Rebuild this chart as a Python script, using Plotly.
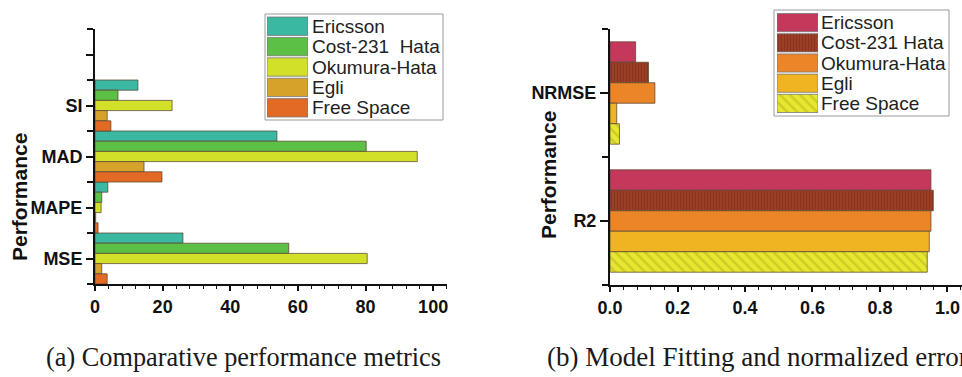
import plotly.graph_objects as go

W, H = 962, 377

# ---------------- data ----------------
metrics_a = ["MSE", "MAPE", "MAD", "SI", ""]
models_a = ["Ericsson", "Cost-231\u00a0 Hata", "Okumura-Hata", "Egli", "Free Space"]
ericsson_a = [26.0, 3.8, 53.8, 12.7]
cost231_a = [57.3, 2.0, 80.2, 6.8]
okumura_a = [80.5, 1.8, 95.3, 22.8]
egli_a = [2.0, 0.2, 14.5, 3.6]
freespace_a = [3.6, 0.9, 19.8, 4.7]
colors_a = ["#3bb8a2", "#5cbf46", "#d3e02a", "#d6a22a", "#e26a24"]

metrics_b = ["R2", "NRMSE"]
models_b = ["Ericsson", "Cost-231 Hata", "Okumura-Hata", "Egli", "Free Space"]
ericsson_b = [0.951, 0.076]
cost231_b = [0.958, 0.114]
okumura_b = [0.951, 0.133]
egli_b = [0.946, 0.020]
freespace_b = [0.940, 0.028]
colors_b = ["#c4395b", "#983b24", "#ec8428", "#f0b422", "#e3e62c"]
patterns_b = [None, dict(shape="|", size=3, solidity=0.3, fgcolor="#6f2818", bgcolor="#9c3e26"),
              None, None,
              dict(shape="\\", size=7, solidity=0.35, fgcolor="#b8ae1a", bgcolor="#e6e830")]

xticks_a = [0, 20, 40, 60, 80, 100]
xticks_b = [0.0, 0.2, 0.4, 0.6, 0.8, 1.0]

captions = ["(a) Comparative performance metrics", "(b) Model Fitting and normalized error"]


def px_x(p):
    return p / W


def px_y(p):
    return (H - p) / H


fig = go.Figure()

series_a = [ericsson_a, cost231_a, okumura_a, egli_a, freespace_a]
series_b = [ericsson_b, cost231_b, okumura_b, egli_b, freespace_b]
outline = "rgba(90,70,50,0.75)"

# left chart: 5 bars fill each category (no gap)
wa = 1.0 / len(series_a)
for i, (name, vals, col) in enumerate(zip(models_a, series_a, colors_a)):
    fig.add_trace(go.Bar(
        x=vals, y=list(range(len(vals))), orientation="h", name=name,
        width=wa, offset=0.5 - wa * (i + 1),
        marker=dict(color=col, line=dict(color=outline, width=1)),
        xaxis="x", yaxis="y", showlegend=False, hoverinfo="skip"))

# right chart: 5 bars fill 80% of each category
wb = 0.8 / len(series_b)
for i, (name, vals, col, pat) in enumerate(zip(models_b, series_b, colors_b, patterns_b)):
    m = dict(color=col, line=dict(color=outline, width=1))
    if pat:
        m["pattern"] = pat
    fig.add_trace(go.Bar(
        x=vals, y=list(range(len(vals))), orientation="h", name=name,
        width=wb, offset=0.4 - wb * (i + 1),
        marker=m, xaxis="x2", yaxis="y2", showlegend=False, hoverinfo="skip"))

# legend swatches (drawn as bars on small helper axes)
n = len(models_a)
for i, (name, col) in enumerate(zip(models_a, colors_a)):
    fig.add_trace(go.Bar(
        x=[1], y=[n - 1 - i], base=0, orientation="h", width=0.9, offset=-0.45,
        marker=dict(color=col, line=dict(color="rgba(120,120,120,0.8)", width=1)),
        xaxis="x3", yaxis="y3", showlegend=False, hoverinfo="skip"))
for i, (name, col, pat) in enumerate(zip(models_b, colors_b, patterns_b)):
    m = dict(color=col, line=dict(color="rgba(120,120,120,0.8)", width=1))
    if pat:
        m["pattern"] = pat
    fig.add_trace(go.Bar(
        x=[1], y=[n - 1 - i], base=0, orientation="h", width=0.9, offset=-0.45,
        marker=m, xaxis="x4", yaxis="y4", showlegend=False, hoverinfo="skip"))

bold = dict(family="Liberation Sans, Arial, sans-serif", size=18, color="#111", weight="bold")
axis_common = dict(showline=True, linecolor="#111", linewidth=2, showgrid=False, zeroline=False,
                   ticks="outside", tickcolor="#111", tickwidth=1.5, ticklen=5, tickfont=bold,
                   automargin=False)

half_a = [k - 0.5 for k in range(len(metrics_a) + 1)]
half_b = [k - 0.5 for k in range(len(metrics_b) + 1)]

legend_font = dict(family="Liberation Sans, Arial, sans-serif", size=19, color="#222")
hidden = dict(showline=False, showgrid=False, zeroline=False, showticklabels=False, ticks="",
              fixedrange=True, automargin=False)

fig.update_layout(
    width=W, height=H, margin=dict(l=0, r=0, t=0, b=0, autoexpand=False),
    paper_bgcolor="white", plot_bgcolor="rgba(0,0,0,0)",
    barmode="overlay", showlegend=False,
    xaxis=dict(axis_common, domain=[px_x(95), px_x(447)], range=[0, 104.1], anchor="y",
               tickvals=xticks_a, ticktext=[str(v) for v in xticks_a],
               minor=dict(dtick=4, tick0=0, ticks="outside", ticklen=3, tickcolor="#111", tickwidth=1.2)),
    yaxis=dict(axis_common, domain=[px_y(284), px_y(29)], range=[-0.5, 4.5], anchor="x",
               tickvals=list(range(len(metrics_a))), ticktext=metrics_a, ticklen=7,
               minor=dict(tickvals=half_a, ticks="outside", ticklen=6, tickcolor="#111", tickwidth=1.5)),
    xaxis2=dict(axis_common, domain=[px_x(610), 1.0], range=[0, 1.043], anchor="y2",
                tickvals=xticks_b, ticktext=["%.1f" % v for v in xticks_b],
                minor=dict(dtick=0.04, tick0=0, ticks="outside", ticklen=3, tickcolor="#111", tickwidth=1.2)),
    yaxis2=dict(axis_common, domain=[px_y(285), px_y(29)], range=[-0.5, 1.5], anchor="x2",
                tickvals=list(range(len(metrics_b))), ticktext=metrics_b, ticklen=8,
                minor=dict(tickvals=half_b, ticks="outside", ticklen=6, tickcolor="#111", tickwidth=1.5)),
    xaxis3=dict(hidden, domain=[px_x(267), px_x(308)], range=[0, 1], anchor="y3"),
    yaxis3=dict(hidden, domain=[px_y(118), px_y(16)], range=[-0.5, 4.5], anchor="x3", side="right",
                showticklabels=True, tickvals=list(range(n)), ticktext=models_a[::-1],
                tickfont=legend_font, ticklabelstandoff=3),
    xaxis4=dict(hidden, domain=[px_x(777), px_x(818)], range=[0, 1], anchor="y4"),
    yaxis4=dict(hidden, domain=[px_y(113.5), px_y(12.5)], range=[-0.5, 4.5], anchor="x4", side="right",
                showticklabels=True, tickvals=list(range(n)), ticktext=models_b[::-1],
                tickfont=legend_font, ticklabelstandoff=2),
)

# legend frames
fig.add_shape(type="rect", xref="paper", yref="paper",
              x0=px_x(265), x1=px_x(443), y0=px_y(120), y1=px_y(14),
              line=dict(color="#9a9a9a", width=1), fillcolor="rgba(0,0,0,0)", layer="below")
fig.add_shape(type="rect", xref="paper", yref="paper",
              x0=px_x(774), x1=px_x(949), y0=px_y(116), y1=px_y(10),
              line=dict(color="#9a9a9a", width=1), fillcolor="rgba(0,0,0,0)", layer="below")

title_font = dict(family="Liberation Sans, Arial, sans-serif", size=21, color="#111", weight="bold")
fig.add_annotation(text="Performance", xref="paper", yref="paper", x=px_x(19), y=px_y(197),
                   textangle=-90, showarrow=False, font=title_font, xanchor="center", yanchor="middle")
fig.add_annotation(text="Performance", xref="paper", yref="paper", x=px_x(548), y=px_y(175),
                   textangle=-90, showarrow=False, font=title_font, xanchor="center", yanchor="middle")

cap_font_a = dict(family="Liberation Serif, Times New Roman, serif", size=26.3, color="#1a1a1a")
cap_font_b = dict(family="Liberation Serif, Times New Roman, serif", size=27, color="#1a1a1a")
fig.add_annotation(text=captions[0], xref="paper", yref="paper", x=px_x(44), y=px_y(357),
                   showarrow=False, font=cap_font_a, xanchor="left", yanchor="middle")
fig.add_annotation(text=captions[1], xref="paper", yref="paper", x=px_x(545), y=px_y(357),
                   showarrow=False, font=cap_font_b, xanchor="left", yanchor="middle")

fig.write_html("out.html", config={"displayModeBar": False})
